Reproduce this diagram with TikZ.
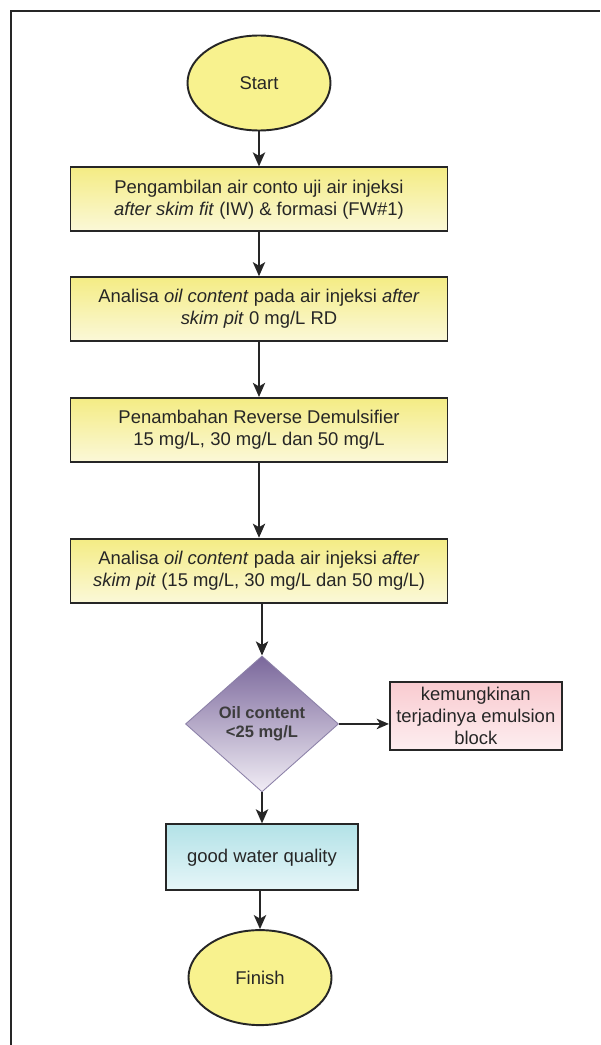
\documentclass[tikz,border=0pt]{standalone}
\usepackage{fontspec}
\setmainfont{Liberation Sans}
\usetikzlibrary{arrows.meta,positioning,shapes.geometric}
\definecolor{ink}{HTML}{262626}
\definecolor{termfill}{HTML}{F8F28E}
\definecolor{proctop}{HTML}{F4EC84}
\definecolor{procbot}{HTML}{FBF8D8}
\definecolor{dectop}{HTML}{7A679B}
\definecolor{decbot}{HTML}{F1EDF5}
\definecolor{decline}{HTML}{8C81A8}
\definecolor{risktop}{HTML}{F9CBD0}
\definecolor{riskbot}{HTML}{FDEEF0}
\definecolor{oktop}{HTML}{B3E2E7}
\definecolor{okbot}{HTML}{E6F6F8}
\newcommand{\flowfont}{\fontsize{10.5}{12.4}\selectfont}
\tikzset{
  termnode/.style={
    ellipse, draw=ink, line width=1.1pt, fill=termfill,
    minimum width=2.86cm, minimum height=1.9cm,
    font=\flowfont, text=ink, inner sep=2pt
  },
  basebox/.style={
    rectangle, draw=ink, line width=1pt,
    font=\flowfont, text=ink, align=center, inner sep=3pt
  },
  procbox/.style={
    basebox, top color=proctop, bottom color=procbot,
    minimum width=7.54cm, minimum height=1.28cm
  },
  riskbox/.style={
    basebox, top color=risktop, bottom color=riskbot,
    minimum width=3.44cm, minimum height=1.34cm
  },
  okbox/.style={
    basebox, top color=oktop, bottom color=okbot,
    minimum width=3.84cm, minimum height=1.32cm
  },
  decnode/.style={
    diamond, draw=decline, line width=0.5pt,
    top color=dectop, bottom color=decbot,
    minimum width=3.06cm, minimum height=2.72cm, inner sep=0pt,
    font=\fontsize{9.4}{11}\selectfont\bfseries, text=ink!90, align=center
  },
  flowarrow/.style={
    -{Stealth[length=8pt, width=7pt, inset=2pt]}, line width=1.1pt, color=ink
  },
  sidearrow/.style={
    -{Stealth[length=7pt, width=6pt, inset=2pt]}, line width=0.9pt, color=ink
  },
}
\begin{document}
\begin{tikzpicture}
  \useasboundingbox (0,0) rectangle (12,-20.9);

  % Frame (left and top edges)
  \draw[ink, line width=1.1pt] (0.22,-20.9) -- (0.22,-0.22) -- (12,-0.22);

  % Main column
  \node[termnode] (start) at (5.18,-1.66) {Start};
  \node[procbox, below=0.70cm of start] (sample)
    {Pengambilan air conto uji air injeksi\\
     \textit{after skim fit} (IW) \& formasi (FW\#1)};
  \node[procbox, below=0.88cm of sample] (blank)
    {Analisa \textit{oil content} pada air injeksi \textit{after}\\
     \textit{skim pit} 0 mg/L RD};
  \node[procbox, below=1.10cm of blank] (dose)
    {Penambahan Reverse Demulsifier\\
     15 mg/L, 30 mg/L dan 50 mg/L};
  \node[procbox, below=1.50cm of dose] (test)
    {Analisa \textit{oil content} pada air injeksi \textit{after}\\
     \textit{skim pit} (15 mg/L, 30 mg/L dan 50 mg/L)};
  \node[decnode, below=1.04cm of test, xshift=0.06cm] (dec) {Oil content\\ <25 mg/L};
  \node[okbox, below=0.62cm of dec] (good) {good water quality};
  \node[termnode, below=0.76cm of good, xshift=-0.04cm] (finish) {Finish};

  % Side branch
  \node[riskbox, right=1.0cm of dec, yshift=0.16cm] (risk)
    {kemungkinan\\ terjadinya emulsion\\ block};

  % Flow
  \draw[flowarrow] (start) -- (start |- sample.north);
  \draw[flowarrow] (sample) -- (blank);
  \draw[flowarrow] (blank) -- (dose);
  \draw[flowarrow] (dose) -- (test);
  \draw[flowarrow] (test.south -| dec.north) -- (dec);
  \draw[flowarrow] (dec) -- (good);
  \draw[flowarrow] (good.south -| finish.north) -- (finish);
  \draw[sidearrow] (dec.east) -- (dec.east -| risk.west);
\end{tikzpicture}
\end{document}
